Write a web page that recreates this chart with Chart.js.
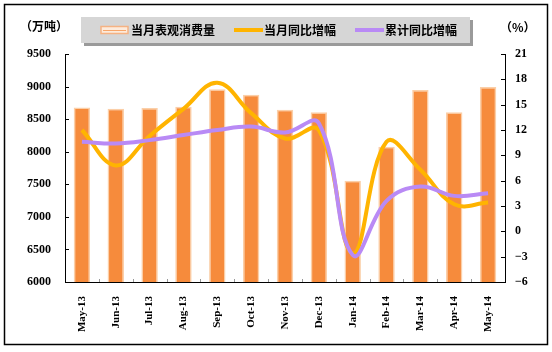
<!DOCTYPE html>
<html><head><meta charset="utf-8">
<script src="https://cdn.jsdelivr.net/npm/chart.js@4.4.0/dist/chart.umd.min.js"></script>
<style>html,body{margin:0;padding:0;background:#fff;}#wrap{position:relative;width:552px;height:352px;}</style>
</head><body><div id="wrap"><canvas id="c" width="552" height="352"></canvas></div>
<script>
const categories = ['May-13','Jun-13','Jul-13','Aug-13','Sep-13','Oct-13','Nov-13','Dec-13','Jan-14','Feb-14','Mar-14','Apr-14','May-14'];
const consumption = [8680, 8660, 8670, 8690, 8960, 8875, 8645, 8605, 7555, 8077, 8947, 8605, 8995];
const monthlyYoY = [12.0, 7.8, 11.3, 14.5, 17.6, 14.0, 11.0, 12.0, -2.6, 10.6, 7.3, 3.2, 3.4];
const cumulativeYoY = [10.6, 10.4, 10.8, 11.4, 12.0, 12.4, 11.7, 12.8, -2.8, 3.6, 5.3, 4.2, 4.5];
const seriesNames = ['当月表观消费量', '当月同比增幅', '累计同比增幅'];
const leftTicks = [6000, 6500, 7000, 7500, 8000, 8500, 9000, 9500];
const rightTicks = [-6, -3, 0, 3, 6, 9, 12, 15, 18, 21];
const leftUnit = '（万吨）';
const rightUnit = '（%）';

const COL_BAR = '#F68B3C', COL_BAR_BORDER = '#FBCFA8';
const COL_Y = '#FFB400', COL_P = '#B98AF5';
const tickFont = {family: '"Liberation Serif", serif', size: 12, weight: 'bold'};
const cjkFont = 'bold 12px "Noto Sans CJK SC", sans-serif';

const decor = {
  id: 'decor',
  beforeDraw(chart) {
    const ctx = chart.ctx;
    ctx.save();
    ctx.fillStyle = '#fff';
    ctx.fillRect(0, 0, chart.width, chart.height);
    ctx.restore();
  },
  afterDatasetsDraw(chart) {
    const ctx = chart.ctx, a = chart.chartArea;
    const yl = chart.scales.yL, yr = chart.scales.yR, x = chart.scales.x;
    ctx.save();
    ctx.strokeStyle = '#000'; ctx.lineWidth = 1;
    ctx.beginPath();
    leftTicks.forEach(v => { const p = Math.round(yl.getPixelForValue(v)) + 0.5; ctx.moveTo(a.left, p); ctx.lineTo(a.left + 4, p); });
    rightTicks.forEach(v => { const p = Math.round(yr.getPixelForValue(v)) + 0.5; ctx.moveTo(a.right - 4, p); ctx.lineTo(a.right, p); });
    ctx.stroke();
    ctx.strokeStyle = '#999';
    ctx.beginPath();
    for (let i = 0; i < categories.length - 1; i++) {
      const p = Math.round((x.getPixelForValue(i) + x.getPixelForValue(i + 1)) / 2) + 0.5;
      ctx.moveTo(p, a.bottom); ctx.lineTo(p, a.bottom - 3);
    }
    ctx.stroke();
    ctx.restore();
  },
  afterDraw(chart) {
    const ctx = chart.ctx;
    ctx.save();
    ctx.strokeStyle = '#000'; ctx.lineWidth = 1.5;
    ctx.strokeRect(4.5, 4.5, 543, 340);
    ctx.fillStyle = '#000'; ctx.font = cjkFont; ctx.textBaseline = 'middle';
    ctx.textAlign = 'left';
    ctx.fillText(leftUnit, 20, 26);
    ctx.fillText(rightUnit, 500, 27);
    ctx.fillStyle = '#9a9a9a';
    ctx.fillRect(84, 20, 389, 26);
    ctx.fillStyle = '#d6d6d6';
    ctx.fillRect(81, 17, 389, 26);
    const colors = [null, COL_Y, COL_P];
    let lx = 101; const ly = 30;
    seriesNames.forEach((name, i) => {
      if (i === 0) {
        ctx.fillStyle = '#fdebdc';
        ctx.fillRect(lx, ly - 3.5, 27, 7);
        ctx.strokeStyle = '#F5B283'; ctx.lineWidth = 1.5;
        ctx.strokeRect(lx, ly - 3.5, 27, 7);
        ctx.strokeStyle = '#F7A66A'; ctx.lineWidth = 1;
        ctx.beginPath(); ctx.moveTo(lx + 2, ly + 0.5); ctx.lineTo(lx + 25, ly + 0.5); ctx.stroke();
      } else {
        ctx.strokeStyle = colors[i]; ctx.lineWidth = 4;
        ctx.beginPath(); ctx.moveTo(lx, ly); ctx.lineTo(lx + 29, ly); ctx.stroke();
      }
      ctx.fillStyle = '#000'; ctx.font = cjkFont; ctx.textAlign = 'left'; ctx.textBaseline = 'middle';
      const tx = lx + 30;
      ctx.fillText(name, tx, ly);
      lx = tx + ctx.measureText(name).width + 19;
    });
    ctx.restore();
  }
};

new Chart(document.getElementById('c'), {
  data: {
    labels: categories,
    datasets: [
      {type: 'line', label: seriesNames[2], data: cumulativeYoY, yAxisID: 'yR', borderColor: COL_P, borderWidth: 4, pointRadius: 0, tension: 0.4, order: 1, fill: false},
      {type: 'line', label: seriesNames[1], data: monthlyYoY, yAxisID: 'yR', borderColor: COL_Y, borderWidth: 4, pointRadius: 0, tension: 0.4, order: 2, fill: false},
      {type: 'bar', label: seriesNames[0], data: consumption, yAxisID: 'yL', backgroundColor: COL_BAR, borderColor: COL_BAR_BORDER, borderWidth: 1.5, borderSkipped: false, barPercentage: 0.485, categoryPercentage: 1, order: 3}
    ]
  },
  options: {
    responsive: false,
    animation: false,
    layout: {padding: {top: 54, left: 20, right: 0, bottom: 10}},
    plugins: {legend: {display: false}, tooltip: {enabled: false}},
    scales: {
      x: {
        offset: true,
        grid: {display: false},
        border: {display: true, color: '#000', width: 1},
        ticks: {autoSkip: false, minRotation: 90, maxRotation: 90, padding: 6, color: '#000', font: {family: '"Liberation Serif", serif', size: 11, weight: 'bold'}},
        afterFit(s) { s.height = 60; }
      },
      yL: {
        position: 'left', min: 6000, max: 9500,
        grid: {display: false, drawTicks: false},
        border: {display: true, color: '#000', width: 1},
        ticks: {stepSize: 500, padding: 14, color: '#000', font: tickFont, callback: v => String(v)},
        afterBuildTicks(s) { s.ticks = leftTicks.map(v => ({value: v})); },
        afterFit(s) { s.width = 45; }
      },
      yR: {
        position: 'right', min: -6, max: 21,
        grid: {display: false, drawTicks: false},
        border: {display: true, color: '#000', width: 1},
        ticks: {stepSize: 3, padding: 10, color: '#000', font: tickFont, callback: v => v < 0 ? '\u2212' + Math.abs(v) : String(v)},
        afterBuildTicks(s) { s.ticks = rightTicks.map(v => ({value: v})); },
        afterFit(s) { s.width = 47; }
      }
    }
  },
  plugins: [decor]
});
</script></body></html>
